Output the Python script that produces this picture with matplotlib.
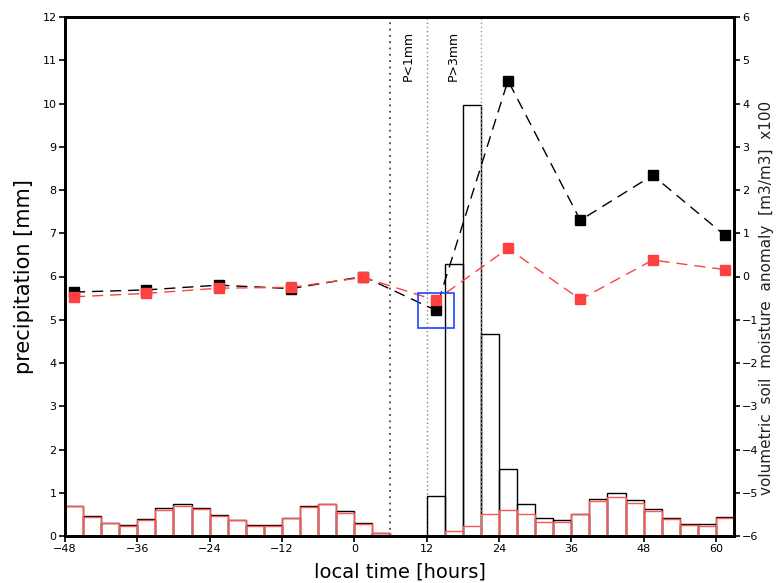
import matplotlib
matplotlib.use("Agg")
import matplotlib.pyplot as plt
from matplotlib.patches import Rectangle
import numpy as np

# ---- data ----
bin_edges_start = list(range(-48, 63, 3))  # 37 three-hour bins
precip_black = [0.70, 0.47, 0.29, 0.26, 0.39, 0.65, 0.73, 0.65, 0.49, 0.36,
                0.25, 0.25, 0.42, 0.70, 0.75, 0.58, 0.29, 0.08, 0.0, 0.0,
                0.93, 6.29, 9.97, 4.66, 1.54, 0.73, 0.41, 0.36, 0.52, 0.86,
                0.99, 0.84, 0.62, 0.42, 0.28, 0.28, 0.44]
precip_red = [0.70, 0.45, 0.29, 0.24, 0.36, 0.61, 0.69, 0.63, 0.47, 0.36,
              0.23, 0.23, 0.42, 0.67, 0.73, 0.53, 0.28, 0.08, 0.0, 0.0,
              0.0, 0.12, 0.22, 0.51, 0.59, 0.50, 0.33, 0.32, 0.50, 0.82,
              0.90, 0.76, 0.57, 0.40, 0.25, 0.23, 0.42]

sm_times = [-46.5, -34.5, -22.5, -10.5, 1.5, 13.5, 25.5, 37.5, 49.5, 61.5]
sm_black = [-0.36, -0.31, -0.20, -0.28, 0.00, -0.78, 4.53, 1.30, 2.34, 0.95]
sm_red = [-0.47, -0.39, -0.27, -0.25, -0.02, -0.55, 0.65, -0.53, 0.38, 0.16]

vlines = [6, 12, 21]
xticks = [-48, -36, -24, -12, 0, 12, 24, 36, 48, 60]

# ---- figure ----
fig = plt.figure(figsize=(7.77, 5.83), dpi=100)
ax = fig.add_axes([65/777, 1-536/583, (734-65)/777, (536-17)/583])
ax.set_xlim(-48, 63)
ax.set_ylim(0, 12)

ax.bar(bin_edges_start, precip_black, width=3, align='edge', fill=False,
       edgecolor='black', linewidth=1.0, zorder=2)
ax.bar(bin_edges_start, precip_red, width=3, align='edge', fill=False,
       edgecolor='#ff5555', linewidth=1.0, zorder=3)

ax.axvline(vlines[0], color='#444444', linestyle=(0, (1, 2.5)), linewidth=1.3, zorder=1)
ax.axvline(vlines[1], color='#888888', linestyle=(0, (1, 2)), linewidth=1.0, zorder=1)
ax.axvline(vlines[2], color='#999999', linestyle=(0, (1, 2)), linewidth=1.0, zorder=4)

ax.text(9, 11.1, 'P<1mm', rotation=90, ha='center', va='center', fontsize=9)
ax.text(16.5, 11.1, 'P>3mm', rotation=90, ha='center', va='center', fontsize=9)

ax.set_xticks(xticks)
ax.set_xticklabels([str(t).replace('-', '\u2212') for t in xticks])
ax.set_yticks(range(0, 13))
ax.tick_params(direction='out', length=4, width=1.2, labelsize=8, top=False, pad=2)
ax.set_xlabel('local time [hours]', fontsize=14, labelpad=6)
ax.set_ylabel('precipitation [mm]', fontsize=15, labelpad=6)
for s in ax.spines.values():
    s.set_linewidth(2)

ax2 = ax.twinx()
ax2.set_ylim(-6, 6)
ax2.set_yticks(range(-6, 7))
ax2.set_yticklabels([str(t).replace('-', '\u2212') for t in range(-6, 7)])
ax2.tick_params(direction='out', length=4, width=1.2, labelsize=8, pad=2)
for s in ax2.spines.values():
    s.set_linewidth(2)

ax2.plot(sm_times, sm_black, color='black', linestyle=(0, (8, 5)), linewidth=1.0,
         marker='s', markersize=7.5, markerfacecolor='black', markeredgecolor='black', zorder=5)
ax2.plot(sm_times, sm_red, color='#ff4040', linestyle=(0, (8, 5)), linewidth=1.0,
         marker='s', markersize=7.5, markerfacecolor='#ff4040', markeredgecolor='#ff4040', zorder=6)
ax2.add_patch(Rectangle((10.5, -1.19), 6.0, 0.82, fill=False, edgecolor='#2244ff',
                        linewidth=1.2, zorder=7))
fig.text(767/777, 1-298/583, 'volumetric  soil  moisture  anomaly  [m3/m3]  x100',
         rotation=90, ha='center', va='center', fontsize=11, color='#222222')

fig.savefig('out.png', dpi=100)
